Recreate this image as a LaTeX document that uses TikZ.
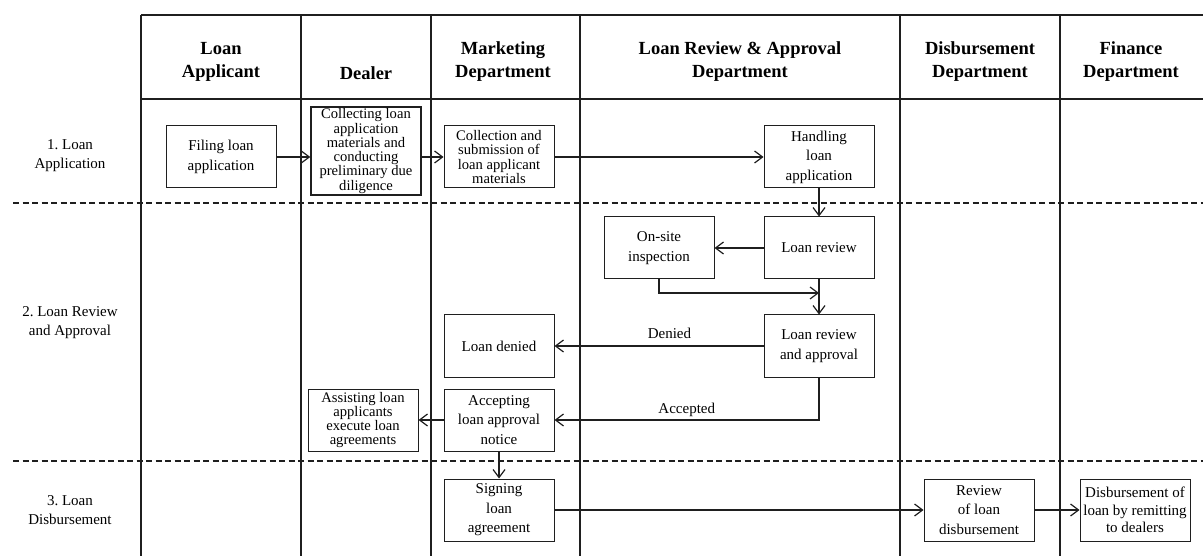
\documentclass[tikz,border=0pt]{standalone}
\usepackage{fontspec}
\setmainfont{Liberation Serif}
\usetikzlibrary{arrows.meta}
\frenchspacing

\def\boxfont{\fontsize{15}{19.5}\selectfont}
\def\tightfont{\fontsize{14.6}{14.3}\selectfont}
\colorlet{rule}{black!88}
\tikzset{box/.style={draw=rule, line width=1pt, minimum width=110pt, minimum height=62pt,
        inner sep=1pt, align=center, font=\boxfont},
    tight/.style={box, font=\tightfont},
    lane/.style={draw=rule, line width=1.8pt},
    sep/.style={draw=rule, line width=1.4pt, dash pattern=on 6pt off 3.5pt},
    flow/.style={draw=rule, line width=1.2pt, -{Straight Barb[length=8pt,width=12pt]}},
    head/.style={font=\fontsize{18.5}{23}\selectfont\bfseries, align=center},
    stage/.style={font=\fontsize{15}{19}\selectfont, align=center},
    tag/.style={font=\boxfont, inner sep=2pt}}

\begin{document}
\begin{tikzpicture}[x=1pt, y=-1pt]
    \useasboundingbox (0,0) rectangle (1203,556);
    % swimlanes
    \draw[lane] (141,15) -- (1203,15) (141,99) -- (1203,99);
    \foreach \x in {141,301,431,580,900,1060}
        \draw[lane] (\x,15) -- (\x,556);
    \draw[sep] (13,203) -- (1203,203) (13,461) -- (1203,461);

    % departments
    \node[head] (applicant) at (221,61.5) {Loan\\Applicant};
    \node[head] (dealer) at (366,73) {Dealer};
    \node[head] (marketing) at (503,61.5) {Marketing\\Department};
    \node[head] (approvaldept) at (740,61.5) {Loan Review \& Approval\\Department};
    \node[head] (disbdept) at (980,61.5) {Disbursement\\Department};
    \node[head] (finance) at (1131,61.5) {Finance\\Department};

    % stages
    \node[stage] (stage1) at (70,156) {1. Loan\\Application};
    \node[stage] (stage2) at (70,323) {2. Loan Review\\and Approval};
    \node[stage] (stage3) at (70,510) {3. Loan\\Disbursement};

    % steps
    \node[box] (filing) at (221,157) {Filing loan\\application};
    \node[tight, minimum height=88pt, line width=1.5pt] (collecting) at (366,151)
        {Collecting loan\\application\\materials and\\conducting\\preliminary due\\diligence};
    \node[tight] (collection) at (499,157) {Collection and\\submission of\\loan applicant\\materials};
    \node[box] (handling) at (819,157) {Handling\\loan\\application};
    \node[box] (review) at (819,248) {Loan review};
    \node[box] (onsite) at (659,248) {On-site\\inspection};
    \node[box] (approval) at (819,346) {Loan review\\and approval};
    \node[box] (denied) at (499,346) {Loan denied};
    \node[box] (accepting) at (499,420) {Accepting\\loan approval\\notice};
    \node[tight] (assisting) at (363,420) {Assisting loan\\applicants\\execute loan\\agreements};
    \node[box] (signing) at (499,510) {Signing\\loan\\agreement};
    \node[box] (disbreview) at (979,510) {Review\\of loan\\disbursement};
    \node[box, font=\fontsize{15}{17.5}\selectfont] (remit) at (1135,510)
        {Disbursement of\\loan by remitting\\to dealers};
    \coordinate (join) at (819,293);

    % flow
    \draw[flow] (filing.east) -- (filing.east -| collecting.west);
    \draw[flow] (collecting.east |- collection.west) -- (collection.west);
    \draw[flow] (collection) -- (handling);
    \draw[flow] (handling) -- (review);
    \draw[flow] (review) -- (onsite);
    \draw[flow] (onsite.south) |- (join);
    \draw[flow] (review) -- (approval);
    \draw[flow] (approval) -- node[tag, pos=0.45, above=5pt] {Denied} (denied);
    \draw[flow] (approval.south) |- node[tag, pos=0.75, above=1pt] {Accepted} (accepting.east);
    \draw[flow] (accepting) -- (assisting);
    \draw[flow] (accepting) -- (signing);
    \draw[flow] (signing) -- (disbreview);
    \draw[flow] (disbreview) -- (remit);
\end{tikzpicture}
\end{document}
